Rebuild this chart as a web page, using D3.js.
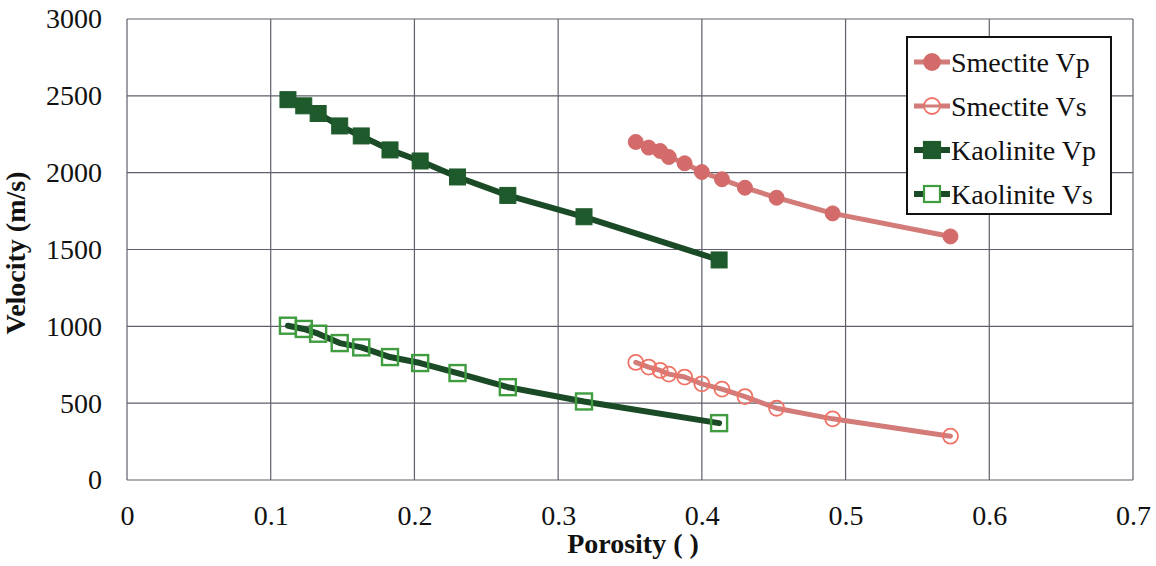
<!DOCTYPE html>
<html>
<head>
<meta charset="utf-8">
<script src="https://cdn.jsdelivr.net/npm/d3@7"></script>
<style>
  html, body { margin: 0; padding: 0; background: #fff; }
  svg { display: block; }
  text { font-family: "Liberation Serif", "Times New Roman", serif; fill: #111; }
</style>
</head>
<body>
<svg id="chart" width="1156" height="566"></svg>
<script>
// ---- Data ----
const smectitePorosity = [0.354, 0.363, 0.371, 0.377, 0.388, 0.400, 0.414, 0.430, 0.452, 0.491, 0.573];
const smectiteVp = [2200, 2163, 2141, 2102, 2061, 2004, 1957, 1902, 1837, 1735, 1585];
const smectiteVs = [765, 735, 713, 689, 670, 626, 591, 543, 467, 398, 285];

const kaolinitePorosity = [0.112, 0.123, 0.133, 0.148, 0.163, 0.183, 0.204, 0.230, 0.265, 0.318, 0.412];
const kaoliniteVp = [2475, 2435, 2385, 2304, 2239, 2148, 2076, 1972, 1852, 1713, 1432];
const kaoliniteVs = [1004, 983, 952, 891, 863, 800, 761, 696, 604, 511, 370];

const xTicks = [0, 0.1, 0.2, 0.3, 0.4, 0.5, 0.6, 0.7];
const yTicks = [0, 500, 1000, 1500, 2000, 2500, 3000];
const seriesNames = ["Smectite Vp", "Smectite Vs", "Kaolinite Vp", "Kaolinite Vs"];

// ---- Chart ----
const svg = d3.select("#chart");
const x = d3.scaleLinear().domain([0, 0.7]).range([127, 1133]);
const y = d3.scaleLinear().domain([0, 3000]).range([480, 19]);

const series = [
  { name: seriesNames[0], xs: smectitePorosity, ys: smectiteVp, line: "#d27b78", lw: 5, shape: "circle", fill: "#d46b6b", stroke: "#d46b6b" },
  { name: seriesNames[1], xs: smectitePorosity, ys: smectiteVs, line: "#d27b78", lw: 5, shape: "circle", fill: "none", stroke: "#ee7366" },
  { name: seriesNames[2], xs: kaolinitePorosity, ys: kaoliniteVp, line: "#1b4a27", lw: 6, shape: "square", fill: "#1e5a2b", stroke: "#1e5a2b" },
  { name: seriesNames[3], xs: kaolinitePorosity, ys: kaoliniteVs, line: "#1b4a27", lw: 6, shape: "square", fill: "none", stroke: "#3f9c3f" }
];

// grid
const grid = svg.append("g");
grid.selectAll("line.v").data(xTicks).enter().append("line")
  .attr("x1", d => x(d)).attr("x2", d => x(d))
  .attr("y1", y(0)).attr("y2", y(3000))
  .attr("stroke", "#5f5f6c").attr("stroke-width", 1.2);
grid.selectAll("line.h").data(yTicks).enter().append("line")
  .attr("x1", x(0)).attr("x2", x(0.7))
  .attr("y1", d => y(d)).attr("y2", d => y(d))
  .attr("stroke", "#5f5f6c").attr("stroke-width", 1.2);

// axes via d3 (labels only)
const xAxis = svg.append("g").attr("transform", `translate(0,${y(0)})`)
  .call(d3.axisBottom(x).tickValues(xTicks).tickFormat(d => d3.format("")(+d.toFixed(1))).tickSize(0).tickPadding(25));
xAxis.select(".domain").remove();
xAxis.selectAll("text").style("font-size", "28px").attr("fill", "#111");

const yAxis = svg.append("g").attr("transform", `translate(${x(0)},0)`)
  .call(d3.axisLeft(y).tickValues(yTicks).tickFormat(d3.format("d")).tickSize(0).tickPadding(25));
yAxis.select(".domain").remove();
yAxis.selectAll("text").style("font-size", "28px").attr("fill", "#111");

// series
const lineGen = (s) => d3.line().x((d, i) => x(s.xs[i])).y(d => y(d));
series.forEach(s => {
  const g = svg.append("g");
  g.append("path").datum(s.ys).attr("d", lineGen(s))
    .attr("fill", "none").attr("stroke", s.line).attr("stroke-width", s.lw)
    .attr("stroke-linejoin", "round").attr("stroke-linecap", "round");
  const pts = s.ys.map((v, i) => [s.xs[i], v]);
  if (s.shape === "circle") {
    g.selectAll("circle").data(pts).enter().append("circle")
      .attr("cx", d => x(d[0])).attr("cy", d => y(d[1])).attr("r", 7.5)
      .attr("fill", s.fill).attr("stroke", s.stroke).attr("stroke-width", s.fill === "none" ? 1.8 : 1);
  } else {
    const sz = 16;
    g.selectAll("rect").data(pts).enter().append("rect")
      .attr("x", d => x(d[0]) - sz / 2).attr("y", d => y(d[1]) - sz / 2)
      .attr("width", sz).attr("height", sz)
      .attr("fill", s.fill).attr("stroke", s.stroke).attr("stroke-width", s.fill === "none" ? 2.4 : 1);
  }
});

// axis titles
svg.append("text").attr("x", 633).attr("y", 553).attr("text-anchor", "middle")
  .style("font-size", "28px").style("font-weight", "bold").text("Porosity ( )");
svg.append("text").attr("transform", "translate(25,253) rotate(-90)").attr("text-anchor", "middle")
  .style("font-size", "28px").style("font-weight", "bold").text("Velocity (m/s)");

// legend
const lg = svg.append("g");
lg.append("rect").attr("x", 907).attr("y", 37).attr("width", 204).attr("height", 177)
  .attr("fill", "#fff").attr("stroke", "#111").attr("stroke-width", 2);
const ly = [62, 106, 150, 194];
series.forEach((s, i) => {
  const cy = ly[i];
  lg.append("line").attr("x1", 914).attr("x2", 950).attr("y1", cy).attr("y2", cy)
    .attr("stroke", s.line).attr("stroke-width", s.lw);
  if (s.shape === "circle") {
    lg.append("circle").attr("cx", 932).attr("cy", cy).attr("r", 8)
      .attr("fill", s.fill === "none" ? "#fff" : s.fill).attr("stroke", s.stroke).attr("stroke-width", 1.8);
    if (s.fill === "none") {
      lg.append("line").attr("x1", 924).attr("x2", 940).attr("y1", cy).attr("y2", cy)
        .attr("stroke", s.line).attr("stroke-width", 3);
    }
  } else {
    lg.append("rect").attr("x", 932 - 8).attr("y", cy - 8).attr("width", 16).attr("height", 16)
      .attr("fill", s.fill === "none" ? "#fff" : s.fill).attr("stroke", s.stroke).attr("stroke-width", 2.2);
  }
  lg.append("text").attr("x", 951).attr("y", cy + 10).style("font-size", "28px").text(s.name);
});
</script>
</body>
</html>
